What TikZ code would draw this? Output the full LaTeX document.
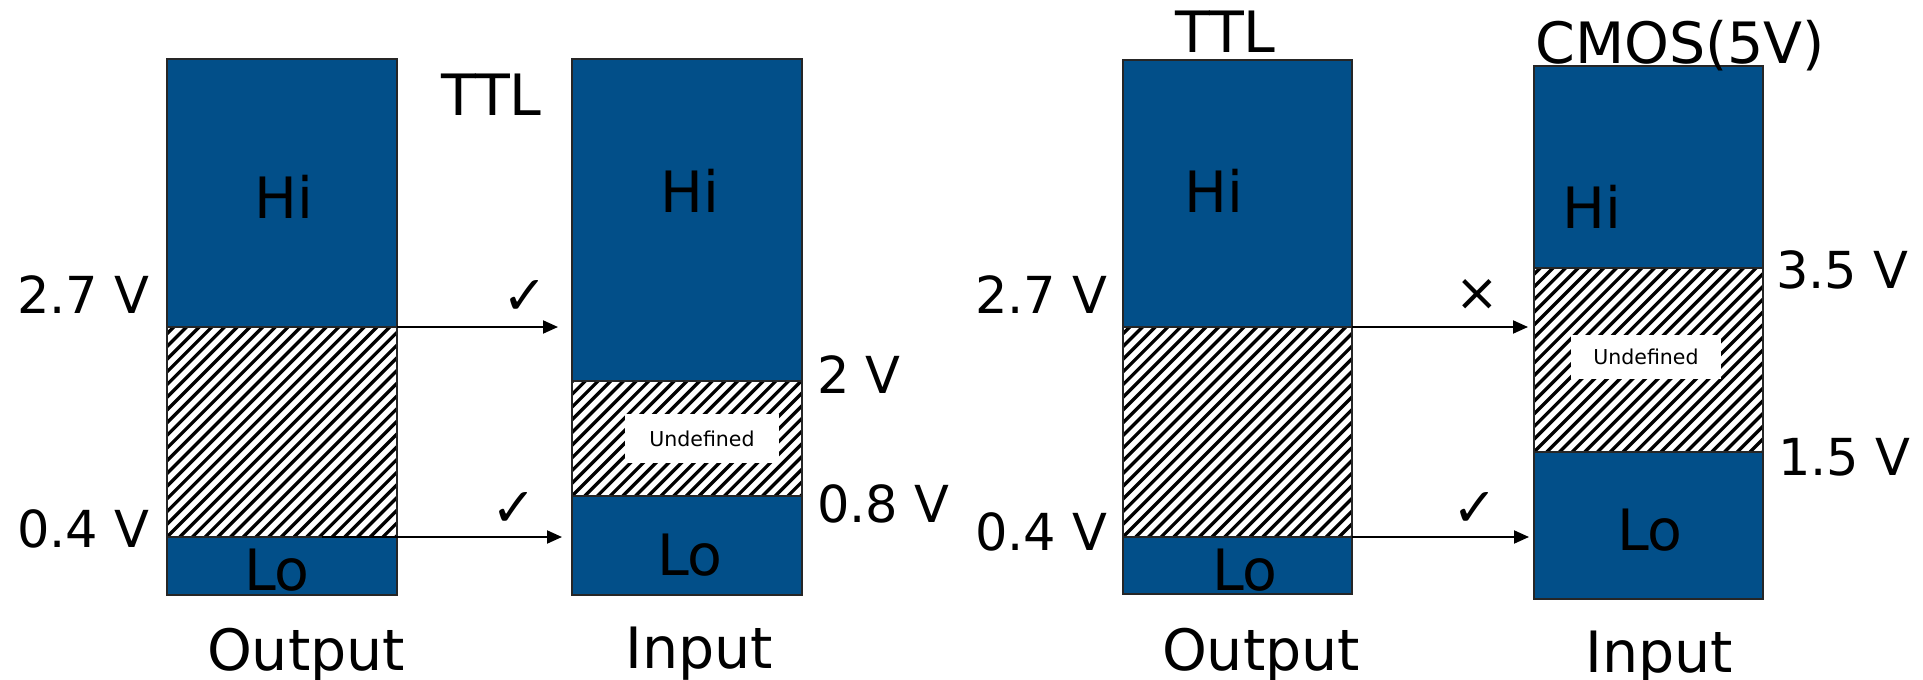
\documentclass[tikz,border=0pt]{standalone}
\usepackage{fontspec}
\setmainfont{DejaVu Sans}
\usetikzlibrary{arrows.meta,calc}
\definecolor{boxblue}{HTML}{024F89}
\begin{document}
\begin{tikzpicture}[x=1pt,y=-1pt,
  sect/.style 2 args={anchor=north west, inner sep=0pt, outer sep=0pt,
    minimum width=#1pt, minimum height=#2pt, draw=black!85, line width=1.3pt},
  blue/.style={fill=boxblue},
  hatch/.style={fill=white, path picture={
      \foreach \k in {-30,...,30}
        \draw[line width=3.3pt, black]
          ($(path picture bounding box.south west)+(\k*12.7,0)$) -- ++(400,-400);
    }},
  undef/.style={fill=white, inner sep=0pt, minimum width=#1pt, minimum height=44pt,
    font=\fontsize{20.5}{24}\selectfont},
  big/.style={inner sep=0pt, anchor=base, font=\fontsize{57}{64}\selectfont},
  volt/.style={inner sep=0pt, anchor=base west, font=\fontsize{51}{58}\selectfont},
  tick/.style={inner sep=0pt, font=\bfseries\fontsize{54}{58}\selectfont},
  arr/.style={line width=2pt, -{Triangle[length=15pt,width=13pt]}}
]
\useasboundingbox (0,0) rectangle (1923,680);

% left output (TTL)
\node[sect={230}{268}, blue] (o1h) at (167,59) {};
\node[sect={230}{210}, hatch] (o1u) at (167,327) {};
\node[sect={230}{58}, blue] (o1l) at (167,537) {};
% left input (TTL)
\node[sect={230}{322}, blue] (i1h) at (572,59) {};
\node[sect={230}{115}, hatch] (i1u) at (572,381) {};
\node[sect={230}{99}, blue] (i1l) at (572,496) {};
\node[undef=154, minimum height=49pt] (u1) at (702,438.5) {Undefined};
% right output (TTL)
\node[sect={229}{267}, blue] (o2h) at (1123,60) {};
\node[sect={229}{210}, hatch] (o2u) at (1123,327) {};
\node[sect={229}{57}, blue] (o2l) at (1123,537) {};
% right input (CMOS)
\node[sect={229}{202}, blue] (i2h) at (1534,66) {};
\node[sect={229}{184}, hatch] (i2u) at (1534,268) {};
\node[sect={229}{147}, blue] (i2l) at (1534,452) {};
\node[undef=150] (u2) at (1646,356.5) {Undefined};

% texts inside boxes
\node[big] (t1hi) at (284,218) {Hi};
\node[big] (t1lo) at (277,590) {Lo};
\node[big] (t2hi) at (690,212) {Hi};
\node[big] (t2lo) at (690,575) {Lo};
\node[big] (t3hi) at (1214,212) {Hi};
\node[big] (t3lo) at (1245,590) {Lo};
\node[big] (t4hi) at (1592,228) {Hi};
\node[big] (t4lo) at (1650,550) {Lo};

% captions
\node[big] (cap1) at (306,670) {Output};
\node[big] (cap2) at (699,668) {Input};
\node[big] (cap3) at (1261,670) {Output};
\node[big] (cap4) at (1659,672) {Input};
\node[big, anchor=base west] (ttl1) at (441,115) {TTL};
\node[big, anchor=base west] (ttl2) at (1175,52) {TTL};
\node[big, anchor=base west] (cmos) at (1535,63) {CMOS(5V)};

% voltage labels
\node[volt] (v1) at (17,313) {2.7 V};
\node[volt] (v2) at (17,547) {0.4 V};
\node[volt] (v3) at (817,393) {2 V};
\node[volt] (v4) at (817,522) {0.8 V};
\node[volt] (v5) at (975,313) {2.7 V};
\node[volt] (v6) at (975,550) {0.4 V};
\node[volt] (v7) at (1776,288) {3.5 V};
\node[volt] (v8) at (1778,475) {1.5 V};

% arrows
\coordinate (e1) at (558,327);
\coordinate (e2) at (562,537);
\coordinate (e3) at (1528,327);
\coordinate (e4) at (1529,537);
\draw[arr] (o1u.north east) -- (e1);
\draw[arr] ([xshift=-75pt]o1l.north east) -- (e2);
\draw[arr] (o2u.north east) -- (e3);
\draw[arr] (o2l.north east) -- (e4);

% marks
\node[tick] (m1) at (525,297) {✓};
\node[tick] (m2) at (514,509) {✓};
\node[tick, font=\fontsize{52}{56}\selectfont] (m3) at (1477,295) {×};
\node[tick] (m4) at (1475,509) {✓};
\end{tikzpicture}
\end{document}
